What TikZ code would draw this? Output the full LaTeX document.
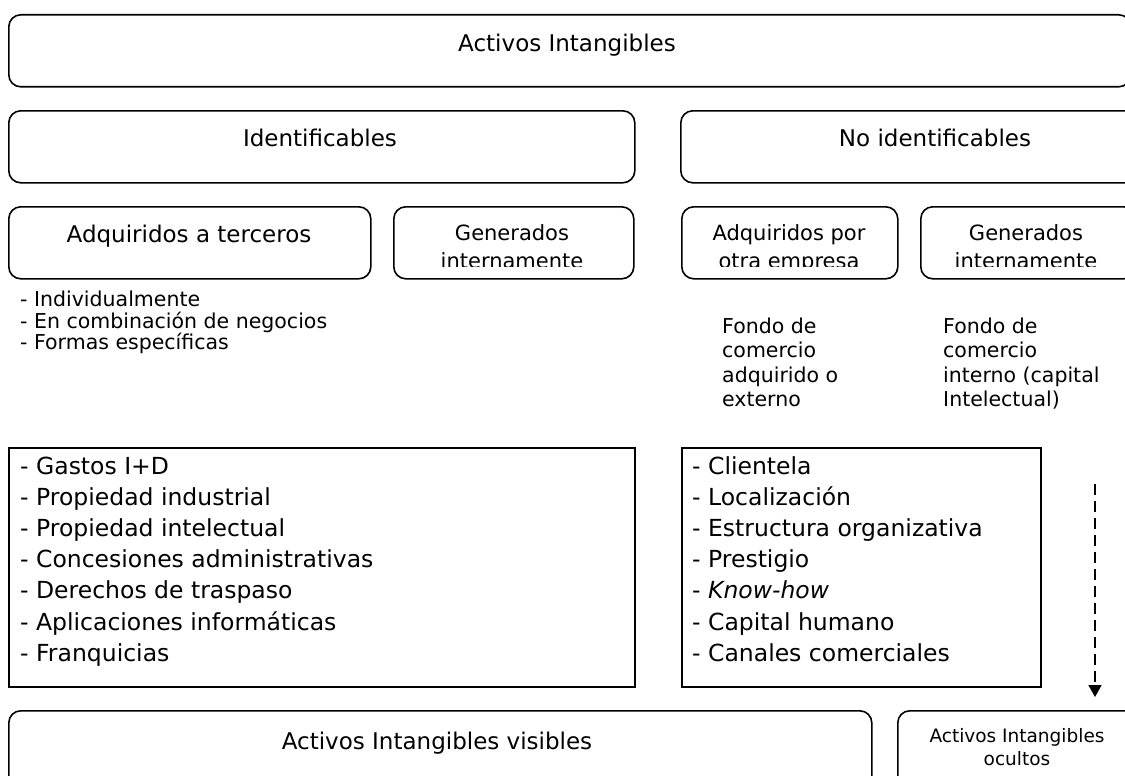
\documentclass[tikz,border=0pt]{standalone}
\usepackage{fontspec}
\setmainfont{DejaVu Sans}
\usetikzlibrary{arrows.meta}
\begin{document}
\begin{tikzpicture}[x=1pt,y=-1pt,
  rbox/.style={draw, line width=1.6pt, rounded corners=12pt, anchor=north west, inner sep=0pt},
  sbox/.style={draw, line width=1.6pt, anchor=north west, inner sep=0pt},
  ctxt/.style={inner sep=0pt, anchor=base},
  ltxt/.style={inner sep=0pt, anchor=base west},
  ftitle/.style={font=\fontsize{23}{28}\selectfont},
  fsmall/.style={font=\fontsize{21}{26}\selectfont},
  flist/.style={font=\fontsize{20.5}{23}\selectfont},
  ffondo/.style={font=\fontsize{20.5}{25}\selectfont},
  fbig/.style={font=\fontsize{23.5}{30}\selectfont},
  focult/.style={font=\fontsize{18.5}{23}\selectfont}
]
\clip (0,0) rectangle (1125,776);

% frames
\node[rbox, minimum width=1122pt, minimum height=72pt] (top) at (8,14) {};
\node[rbox, minimum width=626pt, minimum height=72pt] (ident) at (8,110) {};
\node[rbox, minimum width=510pt, minimum height=72pt] (noident) at (680,110) {};
\node[rbox, minimum width=362pt, minimum height=72pt] (adqter) at (8,206) {};
\node[rbox, minimum width=240pt, minimum height=72pt] (genL) at (393,206) {};
\node[rbox, minimum width=216pt, minimum height=72pt] (adqemp) at (681,206) {};
\node[rbox, minimum width=215pt, minimum height=72pt] (genR) at (920,206) {};
\node[sbox, minimum width=626pt, minimum height=239pt] (listL) at (8,447) {};
\node[sbox, minimum width=359pt, minimum height=239pt] (listR) at (681,447) {};
\node[rbox, minimum width=863pt, minimum height=90pt] (visib) at (8,710) {};
\node[rbox, minimum width=243pt, minimum height=90pt] (ocult) at (897,710) {};

% headings
\node[ctxt, ftitle] (tTop) at (567,51.5) {Activos Intangibles};
\node[ctxt, ftitle] (tIdent) at (320,146.5) {Identificables};
\node[ctxt, ftitle] (tNoIdent) at (935,146.5) {No identificables};
\node[ctxt, ftitle] (tAdqTer) at (189,242.5) {Adquiridos a terceros};
\node[ctxt, ftitle] (tVisib) at (437,749.5) {Activos Intangibles visibles};

% two-line labels, cut by the inner margin of their frames
\begin{scope}
  \clip (380,200) rectangle (1125,266);
  \node[ctxt, fsmall] (gL1) at (512,240) {Generados};
  \node[ctxt, fsmall] (gL2) at (512,268) {internamente};
  \node[ctxt, fsmall] (aE1) at (789,240) {Adquiridos por};
  \node[ctxt, fsmall] (aE2) at (789,268) {otra empresa};
  \node[ctxt, fsmall] (gR1) at (1026,240) {Generados};
  \node[ctxt, fsmall] (gR2) at (1026,268) {internamente};
\end{scope}

% ways of acquisition
\foreach \t [count=\i] in {- Individualmente, - En combinación de negocios, - Formas específicas}
  \node[ltxt, flist] (acq\i) at (20,{306.5+21.5*(\i-1)}) {\t};

% goodwill notes
\foreach \t [count=\i] in {Fondo de, comercio, adquirido o, externo}
  \node[ltxt, ffondo] (fA\i) at (722,{333.5+24.4*(\i-1)}) {\t};
\foreach \t [count=\i] in {Fondo de, comercio, interno (capital, Intelectual)}
  \node[ltxt, ffondo] (fB\i) at (943,{333.5+24.4*(\i-1)}) {\t};

% item lists
\foreach \t [count=\i] in {- Gastos I+D, - Propiedad industrial, - Propiedad intelectual,
    - Concesiones administrativas, - Derechos de traspaso, - Aplicaciones informáticas, - Franquicias}
  \node[ltxt, fbig] (iL\i) at (20,{474.5+31.1*(\i-1)}) {\t};
\foreach \t [count=\i] in {- Clientela, - Localización, - Estructura organizativa,
    - Prestigio, - \textit{Know-how}, - Capital humano, - Canales comerciales}
  \node[ltxt, fbig] (iR\i) at (692,{474.5+31.1*(\i-1)}) {\t};

% hidden assets
\node[ctxt, focult] (tOc1) at (1017,742) {Activos Intangibles};
\node[ctxt, focult] (tOc2) at (1017,765) {ocultos};

% dashed arrow towards hidden assets
\coordinate (arrS) at (1095,484);
\coordinate (arrE) at (1095,697);
\draw[line width=1.6pt, dash pattern=on 11pt off 6pt,
      -{Triangle[length=12pt,width=13pt]}] (arrS) -- (arrE);
\end{tikzpicture}
\end{document}
